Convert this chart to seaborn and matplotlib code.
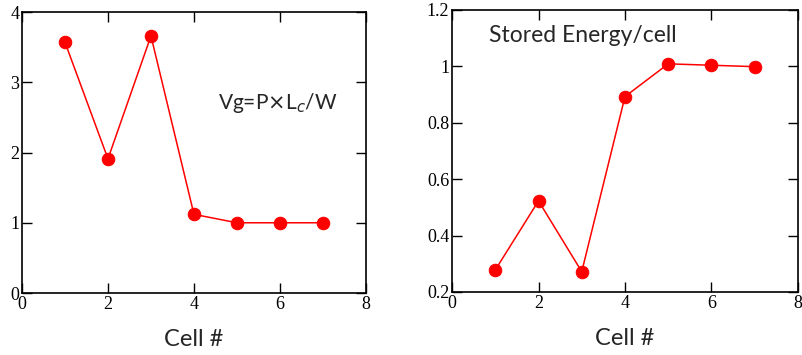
import matplotlib
matplotlib.use("Agg")
import matplotlib.pyplot as plt
import seaborn as sns

# values
cells = [1, 2, 3, 4, 5, 6, 7]
group_velocity = [3.57, 1.91, 3.66, 1.12, 1.0, 1.0, 1.0]
stored_energy = [0.278, 0.523, 0.272, 0.893, 1.009, 1.004, 0.999]

x_ticks = [0, 2, 4, 6, 8]
left_y_ticks = [0, 1, 2, 3, 4]
right_y_ticks = [0.2, 0.4, 0.6, 0.8, 1.0, 1.2]
right_y_labels = ["0.2", "0.4", "0.6", "0.8", "1", "1.2"]

sns.set_style("ticks")
plt.rcParams['font.family'] = ['Liberation Serif', 'DejaVu Serif']

fig = plt.figure(figsize=(8.02, 3.55), dpi=100)
ax1 = fig.add_axes([0.0274, 0.1746, 0.4289, 0.7915])
ax2 = fig.add_axes([0.5636, 0.1775, 0.4314, 0.7944])

label_font = dict(family=['Lato', 'DejaVu Sans'], size=17)


def style_axis(ax, xlim, ylim, yticks, ylabels):
    ax.set_xlim(*xlim)
    ax.set_ylim(*ylim)
    ax.set_xticks(x_ticks)
    ax.set_xticklabels([str(t) for t in x_ticks])
    ax.set_yticks(yticks)
    ax.set_yticklabels(ylabels)
    ax.tick_params(direction='in', length=7, width=1, top=True, right=True,
                   labelsize=13, pad=2, colors='black')
    for sp in ax.spines.values():
        sp.set_visible(True)
        sp.set_linewidth(1.2)
        sp.set_color('black')
    ax.set_xlabel("Cell #", fontdict=label_font, labelpad=12)
    ax.set_ylabel("")


sns.lineplot(x=cells, y=group_velocity, ax=ax1, color='red', marker='o',
             markersize=9, markeredgecolor='red', linewidth=1.1)
style_axis(ax1, (0, 8), (0, 4), left_y_ticks, [str(t) for t in left_y_ticks])
ax1.text(4.55, 2.62, r"Vg=P$\times$L$_c$/W", fontsize=15,
         family=['Lato', 'DejaVu Sans'])

sns.lineplot(x=cells, y=stored_energy, ax=ax2, color='red', marker='o',
             markersize=9, markeredgecolor='red', linewidth=1.1)
style_axis(ax2, (0, 8), (0.2, 1.2), right_y_ticks, right_y_labels)
ax2.text(0.85, 1.085, "Stored Energy/cell", fontsize=16.5,
         family=['Lato', 'DejaVu Sans'])

fig.savefig("out.png", dpi=100)
